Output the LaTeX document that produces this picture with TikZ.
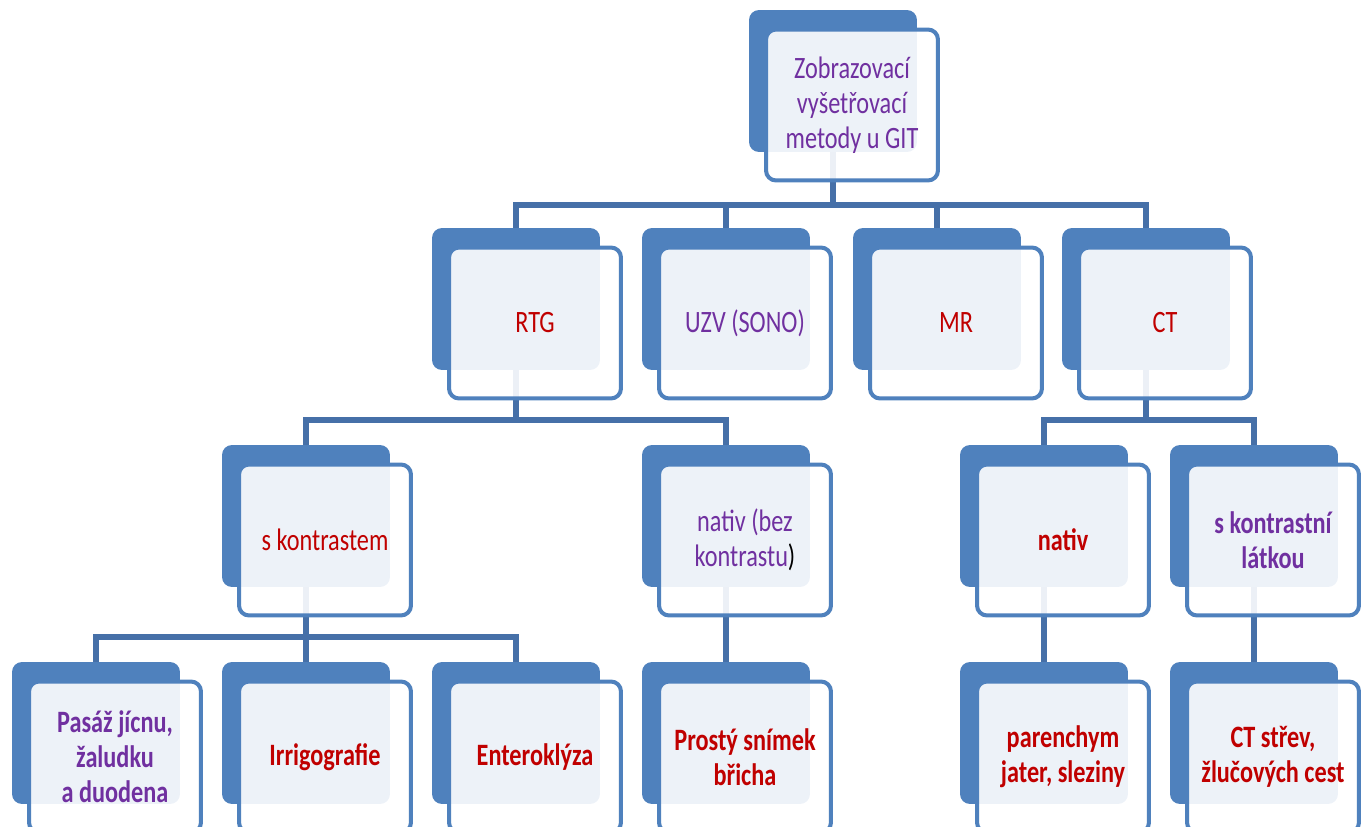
\documentclass[tikz,border=0pt]{standalone}
\usepackage{fontspec}
\setmainfont{Carlito}[FakeStretch=0.78]
\usetikzlibrary{backgrounds}
\definecolor{boxblue}{RGB}{79,129,189}
\definecolor{linkblue}{RGB}{70,112,168}
\definecolor{txtpurple}{RGB}{112,48,160}
\definecolor{txtred}{RGB}{192,0,0}

\begin{document}
\begin{tikzpicture}[x=0.02cm, y=-0.02cm]
    \tikzset{back/.style = {shape=rectangle, rounded corners=0.2cm, fill=boxblue, minimum width=3.36cm, minimum height=2.84cm}}
    \tikzset{front/.style = {shape=rectangle, rounded corners=0.2cm, draw=boxblue, line width=0.08cm, fill=white, fill opacity=0.9, text opacity=1, inner sep=1pt, minimum width=3.44cm, minimum height=3.02cm, align=center, font=\fontsize{17.7}{20}\selectfont}}
    \tikzset{heavy/.style = {font=\fontsize{17.7}{20}\selectfont\bfseries}}
    \tikzset{link/.style = {draw=linkblue, line width=0.12cm}}
    \tikzset{purple/.style = {text=txtpurple}}
    \tikzset{red/.style = {text=txtred}}
    \useasboundingbox (0,0) rectangle (1367,827);
    % top box
    \node[back] (top-b) at (833,81) {};
    \node[front, purple] (top) at ([shift={(19,24)}]top-b.center) {Zobrazovací\\vyšetřovací\\metody u GIT};
    % methods
    \node[back] (rtg-b) at (516,299) {};
    \node[front, red] (rtg) at ([shift={(19,24)}]rtg-b.center) {RTG};
    \node[back] (uzv-b) at (726,299) {};
    \node[front, purple] (uzv) at ([shift={(19,24)}]uzv-b.center) {UZV (SONO)};
    \node[back] (mr-b) at (937,299) {};
    \node[front, red] (mr) at ([shift={(19,24)}]mr-b.center) {MR};
    \node[back] (ct-b) at (1146,299) {};
    \node[front, red] (ct) at ([shift={(19,24)}]ct-b.center) {CT};
    % with or without contrast
    \node[back] (skon-b) at (306,516) {};
    \node[front, red] (skon) at ([shift={(19,24)}]skon-b.center) {s kontrastem};
    \node[back] (natbez-b) at (726,516) {};
    \node[front, purple] (natbez) at ([shift={(19,24)}]natbez-b.center) {nativ (bez\\kontrastu{\color{black})}};
    \node[back] (nat-b) at (1044,516) {};
    \node[front, heavy, red] (nat) at ([shift={(19,24)}]nat-b.center) {nativ};
    \node[back] (sklat-b) at (1254,516) {};
    \node[front, heavy, purple] (sklat) at ([shift={(19,24)}]sklat-b.center) {s kontrastní\\látkou};
    % examinations
    \node[back] (pasaz-b) at (96,733) {};
    \node[front, heavy, purple] (pasaz) at ([shift={(19,24)}]pasaz-b.center) {Pasáž jícnu,\\žaludku\\a duodena};
    \node[back] (irr-b) at (306,733) {};
    \node[front, heavy, red] (irr) at ([shift={(19,24)}]irr-b.center) {Irrigografie};
    \node[back] (ent-b) at (516,733) {};
    \node[front, heavy, red] (ent) at ([shift={(19,24)}]ent-b.center) {Enteroklýza};
    \node[back] (prosty-b) at (726,733) {};
    \node[front, heavy, red] (prosty) at ([shift={(19,24)}]prosty-b.center) {Prostý snímek\\břicha};
    \node[back] (par-b) at (1044,733) {};
    \node[front, heavy, red] (par) at ([shift={(19,24)}]par-b.center) {parenchym\\jater, sleziny};
    \node[back] (ctst-b) at (1254,733) {};
    \node[front, heavy, red] (ctst) at ([shift={(19,24)}]ctst-b.center) {CT střev,\\žlučových cest};
    % connectors behind the boxes
    \begin{scope}[on background layer]
    \coordinate (j1) at (833,205);
    \coordinate (j2) at (516,420);
    \coordinate (j3) at (1146,420);
    \coordinate (j4) at (306,637);
    \draw[link] (top-b.center) -- (j1);
    \draw[link] (j1) -| (rtg-b.center);
    \draw[link] (j1) -| (uzv-b.center);
    \draw[link] (j1) -| (mr-b.center);
    \draw[link] (j1) -| (ct-b.center);
    \draw[link] (rtg-b.center) -- (j2);
    \draw[link] (j2) -| (skon-b.center);
    \draw[link] (j2) -| (natbez-b.center);
    \draw[link] (ct-b.center) -- (j3);
    \draw[link] (j3) -| (nat-b.center);
    \draw[link] (j3) -| (sklat-b.center);
    \draw[link] (skon-b.center) -- (j4);
    \draw[link] (j4) -| (pasaz-b.center);
    \draw[link] (j4) -| (irr-b.center);
    \draw[link] (j4) -| (ent-b.center);
    \draw[link] (natbez-b.center) -- (prosty-b.center);
    \draw[link] (nat-b.center) -- (par-b.center);
    \draw[link] (sklat-b.center) -- (ctst-b.center);
    \end{scope}
\end{tikzpicture}
\end{document}
